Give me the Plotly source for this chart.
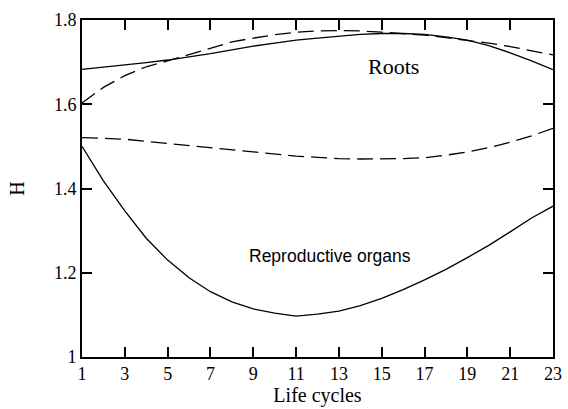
import plotly.graph_objects as go

cycles = list(range(1, 24))

roots_solid = [1.683, 1.688, 1.693, 1.699, 1.705, 1.712, 1.720, 1.729, 1.738, 1.745, 1.752,
               1.757, 1.762, 1.766, 1.768, 1.768, 1.766, 1.760, 1.752, 1.739, 1.722, 1.703, 1.682]
roots_dashed = [1.603, 1.640, 1.668, 1.689, 1.703, 1.718, 1.733, 1.748, 1.757, 1.765, 1.771,
                1.774, 1.775, 1.774, 1.771, 1.768, 1.764, 1.758, 1.752, 1.745, 1.737, 1.727, 1.717]
repro_dashed = [1.521, 1.519, 1.517, 1.512, 1.507, 1.502, 1.497, 1.492, 1.487, 1.481, 1.477,
                1.474, 1.471, 1.470, 1.470, 1.471, 1.473, 1.479, 1.487, 1.497, 1.510, 1.525, 1.543]
repro_solid = [1.500, 1.418, 1.347, 1.282, 1.230, 1.188, 1.155, 1.131, 1.114, 1.104, 1.097,
               1.102, 1.109, 1.122, 1.139, 1.160, 1.183, 1.208, 1.236, 1.265, 1.297, 1.330, 1.358]

x_ticks = list(range(1, 24, 2))
y_ticks = [1.0, 1.2, 1.4, 1.6, 1.8]
y_ticktext = ["1", "1.2", "1.4", "1.6", "1.8"]

serif = "Liberation Serif, Times New Roman, serif"
sans = "Liberation Sans, Arial, sans-serif"

fig = go.Figure()
line_w = 1.3
dash = "16px,7px"
fig.add_trace(go.Scatter(x=cycles, y=roots_solid, mode="lines",
                         line=dict(color="black", width=line_w)))
fig.add_trace(go.Scatter(x=cycles, y=roots_dashed, mode="lines",
                         line=dict(color="black", width=line_w, dash=dash)))
fig.add_trace(go.Scatter(x=cycles, y=repro_dashed, mode="lines",
                         line=dict(color="black", width=line_w, dash=dash)))
fig.add_trace(go.Scatter(x=cycles, y=repro_solid, mode="lines",
                         line=dict(color="black", width=line_w)))

fig.add_annotation(x=15.55, y=1.69, text="Roots", showarrow=False,
                   font=dict(family=serif, size=22, color="black"))
fig.add_annotation(x=12.6, y=1.24, text="Reproductive organs", showarrow=False,
                   font=dict(family=sans, size=17.5, color="black"))

fig.update_layout(
    width=568, height=409,
    margin=dict(l=82, r=15, t=20, b=52),
    plot_bgcolor="white", paper_bgcolor="white",
    showlegend=False,
    font=dict(family=serif, size=18, color="black"),
)
fig.update_xaxes(
    range=[1, 23], tickvals=x_ticks, ticks="inside", ticklen=10, tickwidth=1.5,
    tickcolor="black", showline=True, linecolor="black", linewidth=1.6,
    mirror="ticks", showgrid=False, zeroline=False, automargin=False,
    title=dict(text="Life cycles", font=dict(family=serif, size=20), standoff=2),
    tickfont=dict(family=serif, size=18),
)
fig.update_yaxes(
    range=[1, 1.8], tickvals=y_ticks, ticktext=y_ticktext, ticks="inside",
    ticklen=10, tickwidth=1.5, tickcolor="black", showline=True, linecolor="black",
    linewidth=1.6, mirror="ticks", showgrid=False, zeroline=False, automargin=False,
    title=dict(text="H", font=dict(family=serif, size=20), standoff=24),
    tickfont=dict(family=serif, size=18),
)

# remove the browser's default 8px page margin so the figure fills the window
fig.write_html("out.html", config={"displayModeBar": False},
               post_script="document.body.style.margin='0';")
